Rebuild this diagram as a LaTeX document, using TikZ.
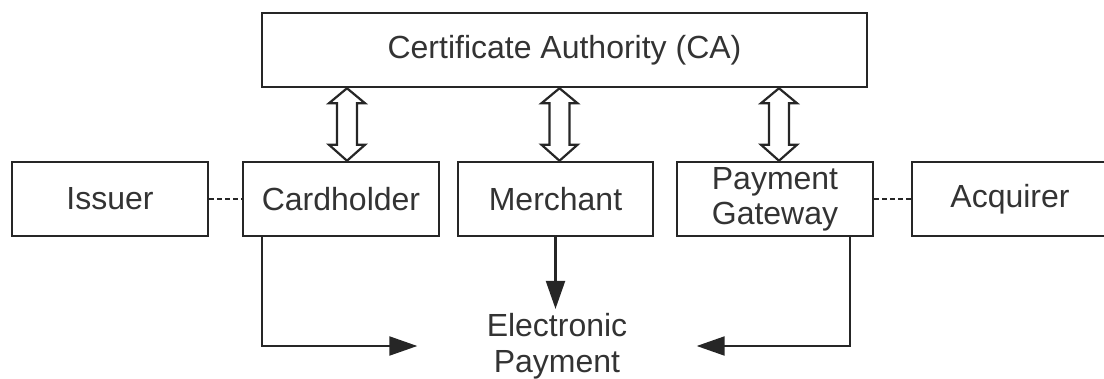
\documentclass[tikz,border=0pt]{standalone}
\usepackage{fontspec}
\setmainfont{Liberation Sans}
\usetikzlibrary{arrows.meta,calc}

\begin{document}
\begin{tikzpicture}[x=1pt, y=-1pt,
    block/.style={rectangle, draw=black!85, line width=2.5pt, minimum width=196pt, minimum height=74pt,
        inner sep=1pt, align=center, text=black!80, font=\fontsize{32}{35}\selectfont},
    link/.style={line width=2.2pt, draw=black!85},
    dotlink/.style={link, line width=2.5pt, dash pattern=on 5pt off 3pt},
    flow/.style={link, -{Triangle[length=28pt, width=19pt]}},
    cert/.style={line width=2.2pt, draw=black!85, line join=miter, to path={
        let \p1=(\tikztostart), \p2=(\tikztotarget) in
        (\x1,\y1) -- (\x1+18pt,\y1+16pt) -- (\x1+10pt,\y1+16pt) -- (\x1+10pt,\y2-15pt)
        -- (\x1+18pt,\y2-15pt) -- (\x1,\y2) -- (\x1-18pt,\y2-15pt) -- (\x1-10pt,\y2-15pt)
        -- (\x1-10pt,\y1+16pt) -- (\x1-18pt,\y1+16pt) -- cycle}}]
    \useasboundingbox (0,0) rectangle (1104,378);
    % top
    \node[block, minimum width=605pt] (CA) at (564.5,50) {Certificate Authority (CA)};
    % middle row
    \node[block] (Issuer) at (110,199) {Issuer};
    \node[block] (Card) at (341,199) {Cardholder};
    \node[block, minimum width=195pt] (Merch) at (555.5,199) {Merchant};
    \node[block] (PG) at (775,199) {Payment\\Gateway};
    \node[block] (Acq) at (1010,199) {Acquirer};
    % bottom
    \node[align=center, text=black!80, font=\fontsize{32}{36}\selectfont, inner sep=4pt,
        minimum width=279pt] (EP) at (557,346) {Electronic\\Payment};

    \draw[cert] ([xshift=6pt]Card.north) to ([xshift=6pt]Card.north |- CA.south);
    \draw[cert] ([xshift=4pt]Merch.north) to ([xshift=4pt]Merch.north |- CA.south);
    \draw[cert] ([xshift=4pt]PG.north) to ([xshift=4pt]PG.north |- CA.south);
    \draw[dotlink] (Issuer.east) -- (Card.west);
    \draw[dotlink] (PG.east) -- (Acq.west);
    \draw[flow] (Merch.south) -- (Merch.south |- EP.north);
    \draw[flow] (Card.south west) ++(20,0) |- (EP.west);
    \draw[flow] (PG.south east) ++(-24,0) |- (EP.east);
\end{tikzpicture}
\end{document}
